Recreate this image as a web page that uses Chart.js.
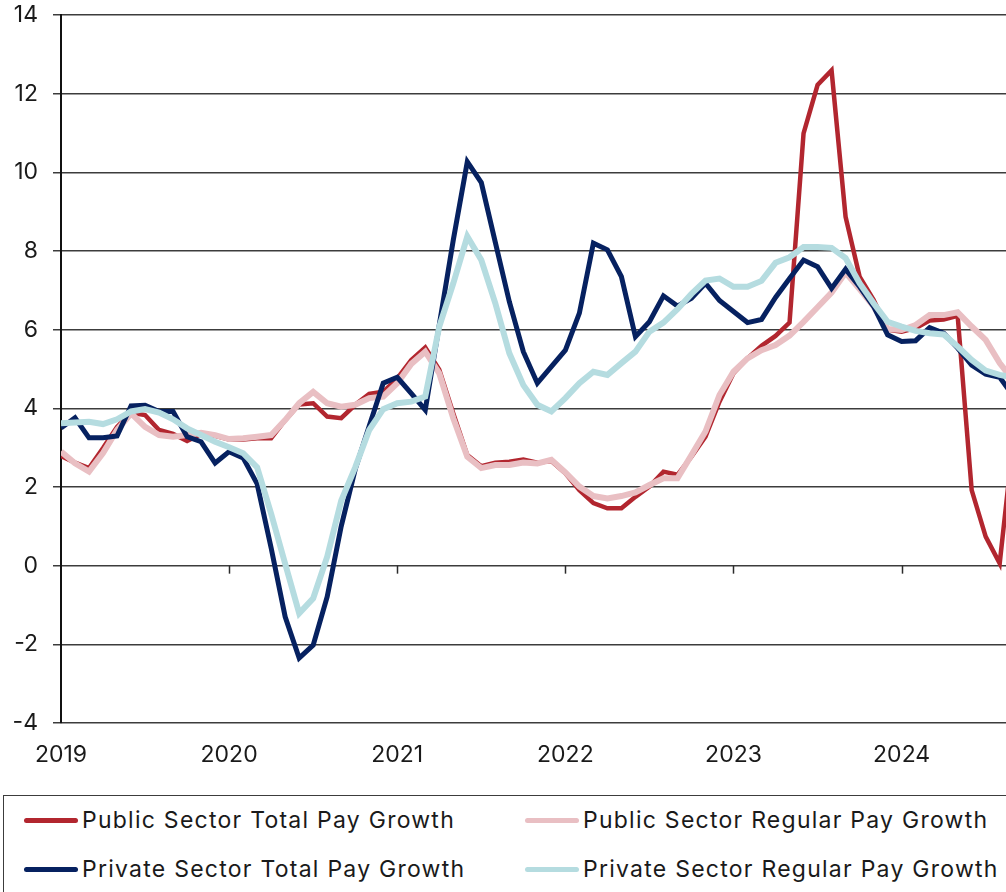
<!DOCTYPE html>
<html>
<head>
<meta charset="utf-8">
<title>Public and private sector pay growth</title>
<script src="https://cdn.jsdelivr.net/npm/chart.js@4.4.1/dist/chart.umd.min.js"></script>
<style>
  html, body { margin: 0; padding: 0; background: #fff; overflow: hidden; }
  #wrap { position: relative; width: 1006px; height: 892px; }
  #payChart { position: absolute; left: 0; top: 0; }
  #legend {
    position: absolute; left: 3px; top: 795px; width: 1100px; height: 130px;
    border: 1.5px solid #3c3c3c; box-sizing: border-box;
    font-family: Inter, "Open Sans", sans-serif; font-size: 23px; letter-spacing: 1.25px; color: #1a1a1a;
  }
  .item { position: absolute; display: flex; align-items: center; height: 30px; white-space: nowrap; }
  .swatch { display: inline-block; width: 54px; height: 5px; border-radius: 3px; margin-right: 4px; }
</style>
</head>
<body>
<div id="wrap">
  <canvas id="payChart" width="1006" height="785"></canvas>
  <div id="legend"></div>
</div>
<script>
// Monthly pay growth, % y/y, Jan 2019 onwards
const months = [];
for (let yr = 2019; yr <= 2024; yr++) {
  for (let m = 1; m <= 12; m++) months.push(yr + '-' + String(m).padStart(2, '0'));
}
const yearLabels = ['2019', '2020', '2021', '2022', '2023', '2024'];
const yTicks = [-4, -2, 0, 2, 4, 6, 8, 10, 12, 14];

const publicTotal = [
  2.79, 2.62, 2.48, 2.99, 3.53, 3.89, 3.83, 3.45, 3.35, 3.17, 3.35, 3.30,
  3.21, 3.21, 3.24, 3.24, 3.70, 4.10, 4.13, 3.79, 3.75, 4.09, 4.37, 4.42,
  4.76, 5.23, 5.55, 4.98, 3.87, 2.81, 2.53, 2.62, 2.64, 2.70, 2.62, 2.66,
  2.35, 1.92, 1.59, 1.46, 1.46, 1.75, 2.01, 2.39, 2.31, 2.77, 3.28, 4.17,
  4.89, 5.27, 5.59, 5.84, 6.18, 10.99, 12.22, 12.59, 8.87, 7.35, 6.76, 6.00,
  5.95, 6.04, 6.23, 6.26, 6.35, 1.92, 0.74, 0.06, 3.30
];
const publicRegular = [
  2.90, 2.60, 2.39, 2.86, 3.45, 3.87, 3.53, 3.32, 3.28, 3.32, 3.38, 3.32,
  3.22, 3.24, 3.28, 3.32, 3.70, 4.13, 4.42, 4.13, 4.04, 4.09, 4.26, 4.30,
  4.64, 5.13, 5.44, 4.89, 3.75, 2.77, 2.48, 2.56, 2.56, 2.62, 2.60, 2.69,
  2.37, 2.01, 1.77, 1.71, 1.77, 1.86, 2.05, 2.22, 2.22, 2.81, 3.41, 4.34,
  4.93, 5.27, 5.48, 5.61, 5.85, 6.20, 6.57, 6.94, 7.45, 7.03, 6.59, 6.02,
  5.99, 6.12, 6.37, 6.37, 6.44, 6.08, 5.74, 5.15, 4.70
];
const privateTotal = [
  3.50, 3.76, 3.25, 3.25, 3.30, 4.06, 4.08, 3.92, 3.92, 3.28, 3.15, 2.61,
  2.90, 2.74, 2.08, 0.45, -1.30, -2.35, -2.02, -0.79, 1.00, 2.45, 3.55, 4.64,
  4.79, 4.38, 3.96, 6.12, 8.28, 10.27, 9.74, 8.22, 6.71, 5.44, 4.64, 5.06,
  5.48, 6.42, 8.20, 8.03, 7.35, 5.82, 6.20, 6.86, 6.60, 6.80, 7.18, 6.74,
  6.46, 6.18, 6.26, 6.82, 7.30, 7.77, 7.60, 7.05, 7.54, 7.09, 6.59, 5.87,
  5.70, 5.72, 6.05, 5.91, 5.53, 5.10, 4.87, 4.79, 4.30
];
const privateRegular = [
  3.62, 3.64, 3.66, 3.60, 3.72, 3.92, 3.98, 3.89, 3.72, 3.49, 3.32, 3.15,
  3.01, 2.86, 2.50, 1.32, 0.05, -1.21, -0.83, 0.23, 1.65, 2.50, 3.45, 3.98,
  4.13, 4.17, 4.30, 6.08, 7.18, 8.37, 7.77, 6.67, 5.40, 4.59, 4.09, 3.92,
  4.26, 4.64, 4.93, 4.85, 5.15, 5.44, 5.95, 6.18, 6.52, 6.91, 7.25, 7.30,
  7.09, 7.09, 7.24, 7.70, 7.84, 8.10, 8.10, 8.08, 7.82, 7.18, 6.67, 6.20,
  6.08, 5.97, 5.91, 5.88, 5.57, 5.23, 4.96, 4.85, 4.78
];

const series = [
  { label: 'Public Sector Total Pay Growth', data: publicTotal, color: '#b2262f', width: 4.5, order: 4 },
  { label: 'Public Sector Regular Pay Growth', data: publicRegular, color: '#e9bfc3', width: 6, order: 3 },
  { label: 'Private Sector Total Pay Growth', data: privateTotal, color: '#062160', width: 5, order: 2 },
  { label: 'Private Sector Regular Pay Growth', data: privateRegular, color: '#b5dce0', width: 6, order: 1 }
];

// small downward tick marks on the zero line, one per year
const zeroLineTicks = {
  id: 'zeroLineTicks',
  beforeDatasetsDraw(chart) {
    const { ctx, scales: { x, y } } = chart;
    const y0 = y.getPixelForValue(0);
    ctx.save();
    ctx.strokeStyle = '#2b2b2b';
    ctx.lineWidth = 1.5;
    x.ticks.forEach(t => {
      if (t.value === 0) return;
      const px = Math.round(x.getPixelForValue(t.value)) + 0.5;
      ctx.beginPath();
      ctx.moveTo(px, y0);
      ctx.lineTo(px, y0 + 8);
      ctx.stroke();
    });
    ctx.restore();
  }
};

const tickFont = { family: 'Inter, "Open Sans", sans-serif', size: 23 };

new Chart(document.getElementById('payChart'), {
  type: 'line',
  data: {
    datasets: series.map(s => ({
      label: s.label,
      data: s.data.map((v, i) => ({ x: i, y: v })),
      borderColor: s.color,
      backgroundColor: s.color,
      borderWidth: s.width,
      order: s.order,
      pointRadius: 0,
      tension: 0,
      borderJoinStyle: 'miter',
      borderCapStyle: 'butt'
    }))
  },
  options: {
    responsive: false,
    animation: false,
    events: [],
    layout: { padding: { top: 15, right: 0, bottom: 0, left: 0 } },
    plugins: {
      legend: { display: false },
      tooltip: { enabled: false }
    },
    scales: {
      x: {
        type: 'linear',
        min: 0,
        max: 67.45,
        grid: { display: false },
        border: { display: false },
        afterBuildTicks: scale => {
          scale.ticks = yearLabels.map((_, i) => ({ value: i * 12 }));
        },
        afterFit: scale => { scale.height = 62; },
        ticks: {
          padding: 10,
          maxRotation: 0,
          color: '#1a1a1a',
          font: tickFont,
          callback: v => yearLabels[Math.round(v / 12)]
        }
      },
      y: {
        min: -4,
        max: 14,
        afterBuildTicks: scale => {
          scale.ticks = yTicks.map(v => ({ value: v }));
        },
        afterFit: scale => {
          scale.width = 61;
          scale.paddingTop = 0;
          scale.paddingBottom = 0;
        },
        grid: { color: '#3c3c3c', lineWidth: 1.5, tickLength: 8 },
        border: { display: true, color: '#111', width: 2 },
        ticks: {
          padding: 15,
          color: '#1a1a1a',
          font: tickFont,
          callback: v => String(v)
        }
      }
    }
  },
  plugins: [zeroLineTicks]
});

// two-column legend under the plot
const legendEl = document.getElementById('legend');
const slots = [
  { left: 20, top: 9 }, { left: 521, top: 9 },
  { left: 20, top: 58 }, { left: 521, top: 58 }
];
[0, 1, 2, 3].forEach((k, n) => {
  const s = series[k];
  const item = document.createElement('div');
  item.className = 'item';
  item.style.left = slots[n].left + 'px';
  item.style.top = slots[n].top + 'px';
  item.innerHTML = '<span class="swatch" style="background:' + s.color + '"></span><span>' + s.label + '</span>';
  legendEl.appendChild(item);
});
</script>
</body>
</html>
